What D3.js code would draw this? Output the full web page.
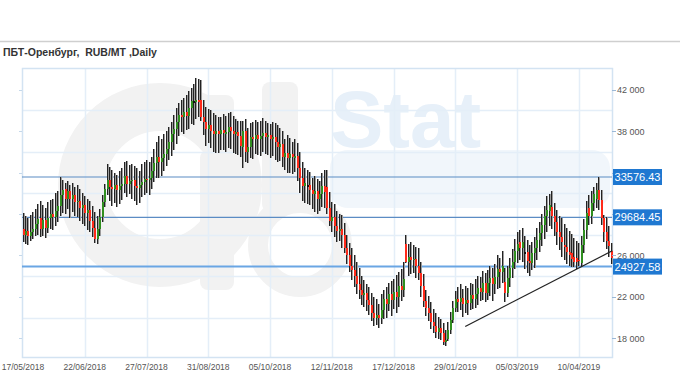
<!DOCTYPE html>
<html>
<head>
<meta charset="utf-8">
<script src="https://cdn.jsdelivr.net/npm/d3@7"></script>
<style>
  body { margin: 0; background: #fff; }
  svg { display: block; }
</style>
</head>
<body>
<svg id="chart" width="680" height="380"></svg>
<script>
// date labels on the x axis, every 25 trading days
var dateLabels = ['17/05/2018','22/06/2018','27/07/2018','31/08/2018','05/10/2018',
                  '12/11/2018','17/12/2018','29/01/2019','05/03/2019','10/04/2019'];
var dateIndex  = [0, 25, 50, 75, 100, 125, 150, 175, 200, 225];

// price ticks (RUB/MT); 30 000 and 34 000 sit under the level boxes
var yTicks  = [18000, 22000, 26000, 30000, 34000, 38000, 42000];
var yLabels = [18000, 22000, 26000, 38000, 42000];
var yGrid   = [20000, 24000, 28000, 32000, 36000, 40000];

// horizontal levels and the support trendline
var levels = [33576.43, 29684.45, 24927.58];
var trendIdx = [179, 238.5];
var trendVal = [19150, 26450];

// daily bars
var open = [
28600,28000,28400,27900,28300,28600,29000,29600,28600,29400,
28700,29600,30000,29700,30300,30800,31800,32400,31500,32200,
31500,31800,31200,31300,30600,30900,30100,30400,29300,28700,
27600,28600,29700,31200,32400,33300,32600,32400,32800,32300,
32700,32900,33700,32900,33200,33300,32700,32500,32800,33100,
33400,33300,33500,34200,34900,35500,35000,35400,35800,36300,
37000,37700,38200,38900,39600,39400,39900,39500,40200,40900,
40900,41000,41000,39400,38900,38200,38600,38000,37700,38000,
37700,38100,37800,37900,38400,38000,37700,37900,37500,36500,
38000,36000,36500,37400,37200,37600,37200,37500,37800,37400,
37600,37200,37400,37000,36500,36800,35500,35900,35400,35800,
35500,35600,34400,33500,32700,32800,32800,32300,31900,32200,
31500,31900,32700,32600,30600,29300,29700,28800,28400,28600,
28000,26700,26000,25000,24600,24000,23200,22700,22200,22400,
21700,21200,20400,20000,20300,20000,20700,21800,21300,22300,
21700,22500,22000,23100,22700,27100,25400,25900,25600,25700,
25000,24300,23100,21600,20900,20400,19600,19200,18600,19000,
18500,17600,17900,18800,19800,20900,21800,21500,21900,21300,
21700,21400,22200,21800,22300,22900,22500,23300,22400,23300,
23800,23200,23900,24700,24400,23400,22400,23800,24800,25400,
26400,27300,26700,26300,26300,25500,25300,26200,26700,27500,
28200,28900,29800,30300,30700,29800,29200,28300,27800,27000,
26800,26300,26200,25900,25800,25600,25300,27000,28500,30600,
29800,31100,31500,32300,31400,29600,28300,27400,26400];

var close = [
28000,28400,27900,28300,28600,29000,29500,28600,29400,28700,
29600,30000,29700,30300,30800,31800,32300,31500,32200,31500,
31800,31200,31300,30600,30900,30100,30400,29300,28700,27600,
28600,29700,31200,32400,33300,32600,32400,32800,32300,32700,
32900,33700,32900,33200,33300,32700,32500,32800,33100,33400,
33300,33500,34200,34900,35500,35000,35400,35800,36300,37000,
37700,38200,38900,39600,39400,39900,39500,40200,40900,40900,
41000,40800,39400,38900,38200,38600,38000,37700,38000,37700,
38100,37800,37900,38400,38000,37700,37900,37500,36600,38000,
36000,36500,37400,37200,37600,37200,37500,37800,37400,37600,
37200,37400,37000,36500,36800,35500,35900,35400,35800,35500,
35600,34400,33500,32700,33000,32800,32300,31900,32200,31500,
31900,32700,32100,30600,29300,29700,28800,28400,28600,28000,
26700,26000,25000,24600,24000,23200,22700,22200,22400,21700,
21200,20400,20000,20300,20000,20700,21800,21300,22300,21700,
22500,22000,23100,22700,23700,25400,25900,25600,25700,25000,
24300,23100,21600,20900,20400,19600,19200,18600,19000,18500,
17600,17800,18800,19800,20900,21800,21500,21900,21300,21700,
21400,22200,21800,22300,22900,22500,23300,22400,23300,23800,
23200,23900,24700,24400,25000,22400,23800,24800,25400,26400,
27100,26700,27300,26300,25500,25300,26200,26700,27500,28200,
28900,29800,30400,30900,29800,29200,28300,27800,27300,26800,
26300,26000,25700,25400,25400,25500,27000,28500,30100,29800,
31100,31900,32300,31400,29600,28300,27400,26900,25800];

var high = [
30100,29800,29600,29900,30200,30500,31000,31300,30900,30600,
31200,31400,31500,32000,32200,33600,33300,33000,33200,32800,
33000,32600,32800,32400,32000,31700,31500,31300,30800,30200,
29800,30500,31800,32900,34800,34500,34300,34000,33800,34200,
34400,35000,35100,34700,34800,34600,34400,34200,34800,35000,
35200,35000,35500,36300,37000,37500,37200,37700,38000,38400,
38900,39600,40200,40700,41000,41200,41500,41900,42200,42600,
43100,43000,42900,41000,40300,40100,40000,39800,39600,39400,
39400,39700,39500,39800,39900,39500,39200,39000,39000,39000,
39200,38300,38800,38900,39100,38900,39000,39300,39000,38800,
38700,38900,38800,38600,38300,38000,37200,37600,37300,37000,
37200,36900,36000,35000,34400,34300,34100,33500,33700,33400,
33200,34000,34300,34300,32100,31200,31000,30300,30000,29900,
29100,28000,27200,26700,26000,25400,24800,24000,23600,23200,
23000,22400,22000,21800,21300,22300,22700,23000,23300,23500,
23700,24100,24400,24700,25400,28000,27100,27300,27000,26800,
26700,25400,24200,22700,22100,21500,20800,20400,20100,19900,
19500,18800,19600,20500,21600,22600,23000,23200,22800,23100,
22900,23300,23200,23700,24000,23900,24500,24300,24600,25000,
24800,25200,26000,25800,26400,24800,25000,25800,26600,27600,
28300,28500,28700,27900,27500,27000,27300,27800,28700,29200,
30000,30800,31700,31900,32200,31100,30400,29800,29600,29000,
28700,28400,28100,27700,27400,27200,27900,29500,31300,31800,
32200,32600,33000,33600,32300,29900,29700,28800,27200];

var low = [
27300,27100,27000,27400,27600,27900,28000,27800,27900,27700,
28200,28600,28500,28800,29200,29800,30100,30000,30500,29600,
30200,29800,29700,29300,29000,28800,28500,28300,27800,27200,
27100,27900,29200,30700,31800,31300,30800,31100,30700,31000,
31400,32000,31600,31900,31500,31300,30900,31100,31600,31800,
32000,31800,32400,33100,33500,33500,33700,34200,34600,35200,
35600,36200,36800,37500,37900,37700,38100,38200,38700,38600,
39200,39400,39000,37600,36600,36900,36400,36000,35900,35900,
36200,36200,36000,36400,36300,35900,35800,35700,35500,34400,
35000,34900,35400,35300,35800,35700,35600,36000,35800,35700,
35400,35600,35200,35000,35100,34500,34300,34000,34000,33900,
34100,33200,32000,31300,31100,31000,30900,30500,30200,30000,
30300,30700,30600,30000,28800,28300,27800,27300,27400,26700,
26200,25200,24400,23600,23000,22300,21800,21200,21000,20600,
20300,19700,19200,19300,19000,19400,19900,20000,20600,20200,
20800,20400,21000,21600,22000,25300,24000,24200,24300,23800,
23600,22000,21000,20200,19700,18900,18500,18000,17900,17800,
17400,17300,17700,18400,19500,20500,20500,20700,20100,20400,
20300,20700,20800,20900,21200,21600,21700,21500,21700,22100,
21600,22300,22800,22900,23300,21500,22000,23000,23800,24700,
25300,25600,25400,24700,24300,24000,24600,24800,25600,26300,
26900,27600,28300,28800,28600,27900,27000,26500,25900,25600,
25200,25000,24900,24900,24700,25000,24900,26200,27600,28900,
29000,30300,30600,30400,28900,27300,26600,25900,25200];

var svg = d3.select('#chart');
var W = 680, H = 380;
var plotLeft = 22, plotRight = 612, plotTop = 68, plotBottom = 357;

var x = d3.scaleLinear().domain([0, 238]).range([23, 611]);
var y = d3.scaleLinear().domain([16200, 44100]).range([plotBottom, plotTop]);

var bars = d3.range(open.length).map(function(i) {
  return {i: i, o: open[i], h: high[i], l: low[i], c: close[i]};
});

var sans = '"Liberation Sans", Arial, sans-serif';

// title + top rule
svg.append('line')
  .attr('x1', 0).attr('x2', W).attr('y1', 41.5).attr('y2', 41.5)
  .attr('stroke', '#cfcfcf').attr('stroke-width', 1.5);
svg.append('text')
  .attr('x', 3).attr('y', 56)
  .style('font-family', sans)
  .style('font-size', '10.5px')
  .style('font-weight', 'bold')
  .attr('fill', '#333')
  .attr('xml:space', 'preserve')
  .text('ПБТ-Оренбург,  RUB/MT ,Daily');

// watermark (OilStat)
var wm = svg.append('g').attr('class', 'watermark');
wm.append('rect').attr('x', 330).attr('y', 150).attr('width', 280).attr('height', 58)
  .attr('rx', 18).attr('fill', '#f1f6fb');
wm.append('circle').attr('cx', 160).attr('cy', 185).attr('r', 78)
  .attr('fill', 'none').attr('stroke', '#f2f2f2').attr('stroke-width', 48);
wm.append('rect').attr('x', 200).attr('y', 95).attr('width', 34).attr('height', 40)
  .attr('rx', 8).attr('fill', '#f2f2f2');
wm.append('rect').attr('x', 200).attr('y', 150).attr('width', 34).attr('height', 140)
  .attr('rx', 8).attr('fill', '#f2f2f2');
wm.append('rect').attr('x', 262).attr('y', 82).attr('width', 36).attr('height', 130)
  .attr('rx', 8).attr('fill', '#f2f2f2');
wm.append('circle').attr('cx', 300).attr('cy', 245).attr('r', 42)
  .attr('fill', 'none').attr('stroke', '#f2f2f2').attr('stroke-width', 20);
wm.append('text').attr('x', 330).attr('y', 147)
  .style('font-family', sans)
  .style('font-size', '80px').style('font-weight', 'bold')
  .attr('fill', '#e7f0f9').text('Stat');

// grid
var grid = svg.append('g').attr('class', 'grid');
grid.selectAll('line.h').data(yGrid).enter().append('line')
  .attr('x1', plotLeft).attr('x2', plotRight)
  .attr('y1', function(d) { return Math.round(y(d)) + 0.5; })
  .attr('y2', function(d) { return Math.round(y(d)) + 0.5; })
  .attr('stroke', '#e4eef8').attr('stroke-width', 1.5);
grid.selectAll('line.v').data(dateIndex.slice(1)).enter().append('line')
  .attr('x1', function(d) { return Math.round(x(d)) + 0.5; })
  .attr('x2', function(d) { return Math.round(x(d)) + 0.5; })
  .attr('y1', plotTop).attr('y2', plotBottom)
  .attr('stroke', '#e4eef8').attr('stroke-width', 1.5);

// plot frame
svg.append('rect')
  .attr('x', plotLeft + 0.5).attr('y', plotTop + 0.5)
  .attr('width', plotRight - plotLeft).attr('height', plotBottom - plotTop)
  .attr('fill', 'none').attr('stroke', '#d3e3f2').attr('stroke-width', 1.5);

// level lines
svg.selectAll('line.level').data(levels).enter().append('line')
  .attr('class', 'level')
  .attr('x1', plotLeft).attr('x2', plotRight)
  .attr('y1', function(d) { return y(d); })
  .attr('y2', function(d) { return y(d); })
  .attr('stroke', function(d, i) { return i == 2 ? '#6aa6e4' : '#5b8cc4'; })
  .attr('stroke-width', function(d, i) { return i == 2 ? 2 : 1.2; });

// bars: wick (black + grey shade) and a thin body
var gBars = svg.append('g').attr('class', 'bars').attr('shape-rendering', 'crispEdges');
gBars.selectAll('rect.shade').data(bars).enter().append('rect')
  .attr('x', function(d) { return x(d.i) + 0.5; })
  .attr('width', 1)
  .attr('y', function(d) { return y(d.h); })
  .attr('height', function(d) { return y(d.l) - y(d.h); })
  .attr('fill', '#9c9c9c');
gBars.selectAll('rect.wick').data(bars).enter().append('rect')
  .attr('x', function(d) { return x(d.i) - 0.5; })
  .attr('width', 1)
  .attr('y', function(d) { return y(d.h); })
  .attr('height', function(d) { return y(d.l) - y(d.h); })
  .attr('fill', '#222');
gBars.selectAll('rect.body').data(bars).enter().append('rect')
  .attr('x', function(d) { return x(d.i) - 0.5; })
  .attr('width', 2)
  .attr('y', function(d) { return y(Math.max(d.o, d.c)); })
  .attr('height', function(d) { return Math.max(1.5, Math.abs(y(d.o) - y(d.c))); })
  .attr('fill', function(d) { return d.c > d.o ? '#2f8f1f' : (d.c < d.o ? '#ff2a1a' : '#111'); });

// trendline
svg.append('line')
  .attr('x1', x(trendIdx[0])).attr('y1', y(trendVal[0]))
  .attr('x2', x(trendIdx[1])).attr('y2', y(trendVal[1]))
  .attr('stroke', '#222').attr('stroke-width', 1.2);

// y axis on the right, small ticks on both sides
var yAxis = svg.append('g').attr('class', 'y_axis');
yAxis.selectAll('line.rt').data(yTicks).enter().append('line')
  .attr('x1', plotRight).attr('x2', plotRight + 4)
  .attr('y1', function(d) { return Math.round(y(d)) + 0.5; })
  .attr('y2', function(d) { return Math.round(y(d)) + 0.5; })
  .attr('stroke', '#9bb8d6');
yAxis.selectAll('line.lt').data(yTicks).enter().append('line')
  .attr('x1', plotLeft - 3).attr('x2', plotLeft)
  .attr('y1', function(d) { return Math.round(y(d)) + 0.5; })
  .attr('y2', function(d) { return Math.round(y(d)) + 0.5; })
  .attr('stroke', '#c5d8ea');
yAxis.selectAll('text').data(yLabels).enter().append('text')
  .attr('x', plotRight + 5)
  .attr('y', function(d) { return y(d) + 3.5; })
  .style('font-family', sans)
  .style('font-size', '9px')
  .attr('fill', '#555')
  .text(function(d) { return d3.format(',')(d).replace(',', ' '); });

// level value boxes
var boxes = svg.selectAll('g.lbl').data(levels).enter().append('g')
  .attr('transform', function(d) { return 'translate(' + (plotRight + 1) + ',' + y(d) + ')'; });
boxes.append('rect')
  .attr('x', 0).attr('y', -8).attr('width', 49).attr('height', 16)
  .attr('fill', '#1f78d1');
boxes.append('text')
  .attr('x', 24.5).attr('y', 4)
  .attr('text-anchor', 'middle')
  .style('font-family', sans)
  .style('font-size', '11px')
  .attr('fill', '#fff')
  .text(function(d) { return d3.format('.2f')(d); });

// x axis labels
svg.selectAll('text.date').data(dateLabels).enter().append('text')
  .attr('x', function(d, i) { return x(dateIndex[i]); })
  .attr('y', 370)
  .attr('text-anchor', 'middle')
  .style('font-family', sans)
  .style('font-size', '8.5px')
  .attr('fill', '#555')
  .text(function(d) { return d; });
</script>
</body>
</html>
